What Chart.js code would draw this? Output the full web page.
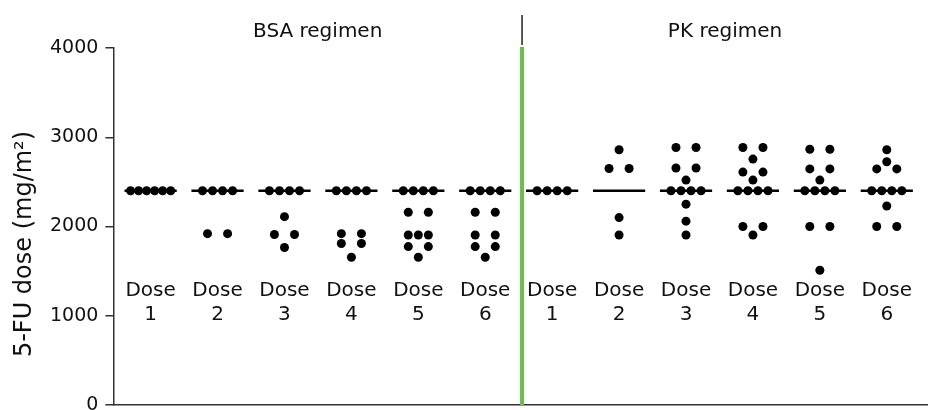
<!DOCTYPE html>
<html>
<head>
<meta charset="utf-8">
<script src="https://cdn.jsdelivr.net/npm/chart.js@4.4.1/dist/chart.umd.min.js"></script>
<style>
  html, body { margin: 0; padding: 0; background: #fff; }
  #wrap { width: 928px; height: 410px; position: relative; overflow: hidden; }
</style>
</head>
<body>
<div id="wrap"><canvas id="c" width="928" height="410"></canvas></div>
<script>
// Regimen headers and dose labels
const regimens = ['BSA regimen', 'PK regimen'];
const doseWord = 'Dose';
const doseNumbers = ['1', '2', '3', '4', '5', '6'];

// Individual 5-FU doses (mg/m²), one array per dose, BSA regimen
const bsaDose1 = [2400, 2400, 2400, 2400, 2400, 2400];
const bsaDose2 = [2400, 2400, 2400, 2400, 1920, 1920];
const bsaDose3 = [2400, 2400, 2400, 2400, 2110, 1910, 1910, 1765];
const bsaDose4 = [2400, 2400, 2400, 2400, 1920, 1920, 1810, 1810, 1655];
const bsaDose5 = [2400, 2400, 2400, 2400, 2160, 2160, 1905, 1905, 1905, 1775, 1775, 1655];
const bsaDose6 = [2400, 2400, 2400, 2400, 2160, 2160, 1905, 1905, 1775, 1775, 1655];

// Individual 5-FU doses (mg/m²), PK regimen
const pkDose1 = [2400, 2400, 2400, 2400];
const pkDose2 = [2860, 2650, 2650, 2100, 1905];
const pkDose3 = [2885, 2885, 2655, 2655, 2520, 2400, 2400, 2400, 2400, 2250, 2060, 1905];
const pkDose4 = [2885, 2885, 2755, 2610, 2610, 2520, 2400, 2400, 2400, 2400, 2000, 2000, 1905];
const pkDose5 = [2865, 2865, 2645, 2645, 2520, 2400, 2400, 2400, 2400, 2000, 2000, 1510];
const pkDose6 = [2860, 2725, 2645, 2645, 2400, 2400, 2400, 2400, 2230, 2000, 2000];

// Median dose per group
const bsaMedians = [2400, 2400, 2400, 2400, 2400, 2400];
const pkMedians = [2400, 2400, 2400, 2400, 2400, 2400];

// Y axis
const yTicks = [0, 1000, 2000, 3000, 4000];
const yTitle = '5-FU dose (mg/m²)';

// ---------------------------------------------------------------
const groups = [bsaDose1, bsaDose2, bsaDose3, bsaDose4, bsaDose5, bsaDose6,
                pkDose1, pkDose2, pkDose3, pkDose4, pkDose5, pkDose6];
const medians = bsaMedians.concat(pkMedians);

const FONT = '"DejaVu Sans", "Noto Sans", sans-serif';
const STEP = 0.15;          // horizontal spacing between tied dots (x units)
const HALF_BAR = 0.39;      // half width of the median bar
const DIVIDER = 6.55;       // position of the separator between regimens

// Spread dots with identical values side by side around the group centre
function swarm(values, centre) {
  const counts = new Map();
  values.forEach(v => counts.set(v, (counts.get(v) || 0) + 1));
  const pts = [];
  counts.forEach((n, v) => {
    let offs;
    if (n === 1) offs = [0];
    else if (n === 2) offs = [-STEP, STEP];
    else {
      const s = Math.min(STEP, 4 * STEP / (n - 1));
      offs = Array.from({ length: n }, (_, i) => (i - (n - 1) / 2) * s);
    }
    offs.forEach(o => pts.push({ x: centre + o, y: v }));
  });
  return pts;
}

const dotData = [];
groups.forEach((vals, g) => dotData.push(...swarm(vals, g + 1)));

const medianData = [];
medians.forEach((m, g) => {
  const c = g + 1;
  medianData.push({ x: c - HALF_BAR, y: m }, { x: c + HALF_BAR, y: m }, { x: c + 0.5, y: null });
});

const decorations = {
  id: 'decorations',
  beforeDatasetsDraw(chart) {
    const { ctx, chartArea: a, scales: { x } } = chart;
    const dx = x.getPixelForValue(DIVIDER);
    ctx.save();
    // green separator inside the plot
    ctx.strokeStyle = '#6cbd45';
    ctx.lineWidth = 4;
    ctx.beginPath();
    ctx.moveTo(dx, a.top - 1);
    ctx.lineTo(dx, a.bottom);
    ctx.stroke();
    // short black separator between the headers
    ctx.strokeStyle = '#222';
    ctx.lineWidth = 1.5;
    ctx.beginPath();
    ctx.moveTo(dx, 15);
    ctx.lineTo(dx, 45);
    ctx.stroke();
    ctx.restore();
  },
  afterDraw(chart) {
    const { ctx, chartArea: a, scales: { x } } = chart;
    const dx = x.getPixelForValue(DIVIDER);
    ctx.save();
    ctx.fillStyle = '#111';
    ctx.font = '20px ' + FONT;
    ctx.textAlign = 'center';
    ctx.textBaseline = 'alphabetic';
    // regimen headers
    ctx.fillText(regimens[0], (a.left + dx) / 2, 37);
    ctx.fillText(regimens[1], (dx + a.right) / 2, 37);
    // dose labels under each group
    groups.forEach((_, g) => {
      const cx = x.getPixelForValue(g + 1);
      ctx.fillText(doseWord, cx, a.bottom - 109);
      ctx.fillText(doseNumbers[g % 6], cx, a.bottom - 85);
    });
    // rotated y-axis title
    ctx.translate(25, 244);
    ctx.rotate(-Math.PI / 2);
    ctx.textBaseline = 'middle';
    ctx.font = '24px ' + FONT;
    ctx.fillText(yTitle, 0, 0);
    ctx.restore();
  }
};

new Chart(document.getElementById('c'), {
  type: 'scatter',
  data: {
    datasets: [
      {
        type: 'line',
        data: medianData,
        borderColor: '#000',
        borderWidth: 2.5,
        pointRadius: 0,
        spanGaps: false,
        fill: false
      },
      {
        type: 'scatter',
        data: dotData,
        backgroundColor: '#000',
        pointRadius: 4.5,
        pointBorderWidth: 0,
        pointHoverRadius: 4.5
      }
    ]
  },
  options: {
    responsive: false,
    animation: false,
    events: [],
    layout: { autoPadding: false, padding: { left: 43, top: 48, right: 0, bottom: 5 } },
    plugins: { legend: { display: false }, tooltip: { enabled: false } },
    scales: {
      x: {
        type: 'linear',
        min: 0.443,
        max: 12.616,
        ticks: { display: false },
        grid: { display: false, drawTicks: false },
        border: { display: true, color: '#333', width: 1.5 }
      },
      y: {
        type: 'linear',
        min: 0,
        max: 4000,
        afterBuildTicks: s => { s.ticks = yTicks.map(v => ({ value: v })); },
        afterFit: s => { s.paddingTop = 0; s.paddingBottom = 0; },
        ticks: { color: '#111', font: { family: FONT, size: 19 }, padding: 7, callback: v => String(v) },
        grid: { drawOnChartArea: false, drawTicks: true, tickLength: 8, color: '#333', lineWidth: 1.5 },
        border: { display: true, color: '#333', width: 1.5 }
      }
    }
  },
  plugins: [decorations]
});
</script>
</body>
</html>
